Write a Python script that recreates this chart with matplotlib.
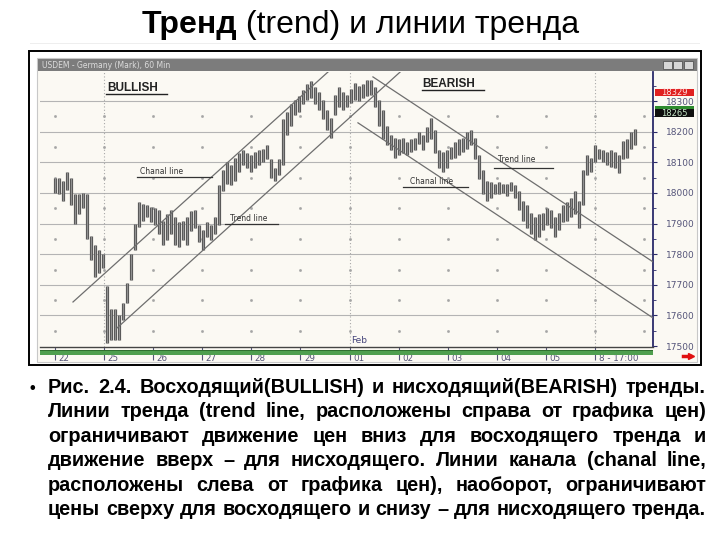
import numpy as np
import matplotlib
matplotlib.use("Agg")
import matplotlib.pyplot as plt
from matplotlib.patches import Rectangle
from matplotlib.lines import Line2D

# ---------------- data ----------------
title_bold = "Тренд"
title_rest = " (trend) и линии тренда"
window_title = "USDEM - Germany (Mark), 60 Min"
day_labels = ["22", "25", "26", "27", "28", "29", "01", "02", "03", "04", "05", "8 - 17:00"]
price_ticks = [17500, 17600, 17700, 17800, 17900, 18000, 18100, 18200, 18300]
last_price = "18329"
ask_price = "18265"

bar_high = [
    18050, 18050, 18040, 18070, 18050, 17995, 17995, 18000, 17995, 17860, 17830, 17815, 17800,
    17695, 17620, 17620, 17600, 17640, 17705, 17800, 17900, 17970, 17965, 17960, 17955, 17950,
    17945, 17910, 17930, 17945, 17920, 17905, 17910, 17920, 17940, 17945, 17895, 17880,
    17905, 17895, 17920, 18025, 18075, 18100, 18090, 18115, 18130, 18140, 18130, 18125,
    18135, 18140, 18145, 18155, 18110, 18080, 18110, 18240, 18265, 18290, 18305, 18315,
    18335, 18355, 18365, 18345, 18330, 18305, 18270, 18245, 18320, 18345, 18330, 18320,
    18340, 18360, 18350, 18355, 18370, 18370, 18345, 18305, 18270, 18220, 18190, 18180,
    18175, 18180, 18165, 18175, 18180, 18200, 18190, 18215, 18245, 18205, 18140, 18135, 18140,
    18150, 18165, 18175, 18180, 18200, 18205, 18180, 18125, 18075, 18040, 18035, 18030,
    18035, 18030, 18030, 18035, 18025, 18005, 17975, 17960, 17935, 17920, 17930, 17935,
    17950, 17945, 17920, 17935, 17960, 17970, 17985, 18005, 17975, 18075, 18125, 18115, 18155,
    18145, 18140, 18135, 18140, 18135, 18125, 18170, 18175, 18200, 18210,
]
bar_low = [
    18000, 17995, 17975, 18010, 17960, 17900, 17930, 17950, 17850, 17780, 17725, 17740, 17755,
    17510, 17520, 17520, 17520, 17585, 17640, 17715, 17815, 17890, 17910, 17920, 17905, 17895,
    17865, 17830, 17845, 17865, 17830, 17825, 17845, 17830, 17875, 17885, 17840, 17815,
    17855, 17845, 17865, 17895, 18005, 18030, 18025, 18040, 18070, 18090, 18080, 18070,
    18080, 18090, 18100, 18110, 18050, 18040, 18060, 18090, 18190, 18220, 18255, 18265,
    18290, 18305, 18310, 18290, 18270, 18240, 18205, 18180, 18255, 18280, 18270, 18280,
    18295, 18305, 18300, 18310, 18315, 18320, 18280, 18220, 18175, 18155, 18140, 18115,
    18125, 18130, 18125, 18135, 18140, 18160, 18140, 18165, 18175, 18130, 18080, 18070, 18080,
    18110, 18115, 18125, 18135, 18145, 18155, 18110, 18045, 17995, 17975, 17985, 17995,
    17995, 18000, 17990, 18005, 17985, 17945, 17910, 17885, 17865, 17845, 17855, 17880,
    17895, 17885, 17855, 17880, 17905, 17910, 17920, 17930, 17885, 17960, 18060, 18070, 18100,
    18110, 18100, 18090, 18085, 18080, 18065, 18110, 18115, 18145, 18155,
]

# trend / channel lines (day index, price)
bull_channel_x = [0.367, 5.56]
bull_channel_y = [17644, 18395]
bull_trend_x = [1.263, 7.03]
bull_trend_y = [17559, 18395]
bear_trend_x = [6.476, 12.18]
bear_trend_y = [18379, 17775]
bear_channel_x = [6.171, 12.18]
bear_channel_y = [18229, 17592]

caption_lines = [
    "Рис. 2.4. Восходящий(BULLISH) и нисходящий(BEARISH) тренды.",
    "Линии тренда (trend line, расположены справа от графика цен)",
    "ограничивают движение цен вниз для восходящего тренда и",
    "движение вверх – для нисходящего. Линии канала (chanal line,",
    "расположены слева от графика цен),  наоборот, ограничивают",
    "цены сверху для восходящего и снизу – для нисходящего тренда.",
]

# ---------------- helpers ----------------
SANS = "Liberation Sans"

W, H = 720, 540
fig = plt.figure(figsize=(7.2, 5.4), dpi=100)
fig.patch.set_facecolor("white")
renderer = fig.canvas.get_renderer()


def rect(x0, y0, x1, y1, **kw):
    r = Rectangle((x0 / W, 1 - y1 / H), (x1 - x0) / W, (y1 - y0) / H,
                  transform=fig.transFigure, **kw)
    fig.add_artist(r)
    return r


def ftext(x, y, s, **kw):
    return fig.text(x / W, 1 - y / H, s, **kw)


def measure(s, **kw):
    t = fig.text(0, 0, s, **kw)
    w = t.get_window_extent(renderer=renderer).width
    t.remove()
    return w


BG = "#fbf9f3"

# ---------------- window chrome ----------------
rect(29, 51, 701, 365, fill=False, ec="black", lw=1.4, zorder=3)
rect(37, 58, 697, 362, fc=BG, ec="#c8c8c8", lw=0.8, zorder=-2)
rect(38, 59, 697, 71, fc="#7c7c7c", ec="none", zorder=2)
ftext(42, 65.5, window_title, fontsize=5.5, color="#dcdcdc", va="center", ha="left", zorder=3)
for bx0 in (663, 673, 684):
    rect(bx0, 61, bx0 + 9, 69, fc="#d6d6d6", ec="#555555", lw=0.6, zorder=3)

# ---------------- chart axes ----------------
ax = fig.add_axes([40 / W, 1 - 347 / H, (653 - 40) / W, (347 - 72) / H])
ax.set_facecolor(BG)
ax.set_xlim(-0.305, 12.18)
ax.set_ylim(17497, 18395)

# grid
for p in price_ticks[1:]:
    ax.axhline(p, color="#b4b4b4", lw=0.8, zorder=1)
for d in (1, 6, 11):
    ax.axvline(d, color="#a8a8a8", lw=0.8, ls=(0, (1, 2)), zorder=1)
dot_x, dot_y = np.meshgrid(np.arange(0, 13), np.array(price_ticks[:-1]) + 50)
ax.plot(dot_x.ravel(), dot_y.ravel(), ls="none", marker="s", ms=0.9, color="#a5a5a5", zorder=1)

# price bars
bars_per_day = 49.1 / 4.0
bx = np.arange(len(bar_high)) / bars_per_day
ax.vlines(bx, bar_low, bar_high, color="#5a5a5a", lw=2.3, zorder=3)
ax.vlines(bx, bar_low, bar_high, color="#9c9c9c", lw=0.6, zorder=3)

# trend and channel lines
for xs, ys in ((bull_channel_x, bull_channel_y), (bull_trend_x, bull_trend_y),
               (bear_trend_x, bear_trend_y), (bear_channel_x, bear_channel_y)):
    ax.plot(xs, ys, color="#6e6e6e", lw=0.9, zorder=4)

# labels on chart
ax.text(1.06, 18343, "BULLISH", fontsize=8.5, fontweight="bold", color="#222222",
        va="center", ha="left", family=SANS, zorder=5)
ax.plot([1.04, 2.28], [18322, 18322], color="#222222", lw=1.0, zorder=5)
ax.text(7.49, 18356, "BEARISH", fontsize=8.5, fontweight="bold", color="#222222",
        va="center", ha="left", family=SANS, zorder=5)
ax.plot([7.47, 8.74], [18336, 18336], color="#222222", lw=1.0, zorder=5)

small = dict(fontsize=5.5, color="#333333", va="center", ha="left", zorder=5)
ax.text(1.73, 18069, "Chanal line", **small)
ax.plot([1.67, 3.20], [18052, 18052], color="#333333", lw=0.9, zorder=5)
ax.text(3.56, 17915, "Trend line", **small)
ax.plot([3.46, 4.54], [17899, 17899], color="#333333", lw=0.9, zorder=5)
ax.text(9.02, 18108, "Trend line", **small)
ax.plot([8.94, 10.14], [18082, 18082], color="#333333", lw=0.9, zorder=5)
ax.text(7.23, 18039, "Chanal line", **small)
ax.plot([7.09, 8.41], [18020, 18020], color="#333333", lw=0.9, zorder=5)

# axes styling
for side in ("left", "top"):
    ax.spines[side].set_visible(False)
ax.spines["right"].set_color("#2a2a6a")
ax.spines["right"].set_linewidth(1.3)
ax.spines["bottom"].set_color("#444444")
ax.spines["bottom"].set_linewidth(1.0)

ax.yaxis.tick_right()
ax.set_yticks(price_ticks)
ax.set_yticklabels([str(p) for p in price_ticks])
ax.set_yticks(np.array(price_ticks) + 50, minor=True)
ax.tick_params(axis="y", which="major", direction="out", length=3, width=0.8,
               colors="#2a2a6a", labelsize=6.5, pad=6, labelcolor="#55557a")
ax.tick_params(axis="y", which="minor", direction="out", length=2, width=0.6, colors="#2a2a6a")

ax.set_xticks(np.arange(len(day_labels)))
ax.set_xticklabels([])
ax.tick_params(axis="x", direction="out", length=9, width=0.8, colors="#555577")
for d, lab in enumerate(day_labels):
    ax.annotate(lab, xy=(d, 0), xycoords=("data", "axes fraction"), xytext=(2.5, -8.5),
                textcoords="offset points", fontsize=6.3, color="#555577", ha="left", va="center",
                annotation_clip=False)
ax.annotate("Feb", xy=(6, 0), xycoords=("data", "axes fraction"), xytext=(1, 1.5),
            textcoords="offset points", fontsize=6.5, color="#44447a", ha="left", va="bottom",
            annotation_clip=False, zorder=6)

# green strip under x axis
rect(40, 349.5, 653, 354.5, fc="#4f9f4f", ec="none", zorder=1)
rect(40, 349.5, 653, 350.5, fc="#2f6f2f", ec="none", zorder=1)

# red arrow at bottom right
fig.add_artist(Line2D([683 / W, 690 / W], [1 - 356 / H] * 2, transform=fig.transFigure,
                      color="#e01010", lw=2.5, zorder=3))
fig.add_artist(Line2D([691 / W], [1 - 356 / H], transform=fig.transFigure, marker=">",
                      ms=5, color="#e01010", zorder=3))

# price markers
rect(655, 88.5, 694, 96, fc="#e02020", ec="none", zorder=3)
ftext(674.5, 92.3, last_price, fontsize=6, color="#ffe0e0", ha="center", va="center", zorder=4)
rect(655, 106.5, 694, 109, fc="#2e8b2e", ec="none", zorder=3)
rect(655, 109, 694, 117, fc="#101010", ec="none", zorder=3)
ftext(674.5, 113, ask_price, fontsize=6, color="#c8e8c8", ha="center", va="center", zorder=4)

# ---------------- slide title ----------------
tb = dict(fontweight="bold", family=SANS)
tr = dict(fontweight="normal", family=SANS)
wb = measure(title_bold, fontsize=20, **tb)
wr = measure(title_rest, fontsize=20, **tr)
tsize = 20 * 436.0 / (wb + wr)
ftext(142, 33, title_bold, fontsize=tsize, va="baseline", ha="left", color="black", **tb)
ftext(142 + wb * tsize / 20, 33, title_rest, fontsize=tsize, va="baseline", ha="left",
      color="black", **tr)
rect(30, 43, 700, 43.6, fc="#eeeeee", ec="none", zorder=0)

# ---------------- caption (justified) ----------------
cap = dict(fontweight="bold", family=SANS, color="black")
x_left, x_right = 48, 706
w_last = measure(caption_lines[-1], fontsize=16, **cap)
csize = 16 * (x_right - x_left) / w_last
ftext(29, 393, "•", fontsize=csize * 0.8, va="baseline", ha="left", **cap)
for i, line in enumerate(caption_lines):
    base = 393 + 24.4 * i
    words = line.split()
    widths = [measure(w, fontsize=csize, **cap) for w in words]
    gap = (x_right - x_left - sum(widths)) / max(len(words) - 1, 1)
    x = x_left
    for w, wd in zip(words, widths):
        ftext(x, base, w, fontsize=csize, va="baseline", ha="left", **cap)
        x += wd + gap

fig.savefig("out.png", dpi=100, facecolor="white")
